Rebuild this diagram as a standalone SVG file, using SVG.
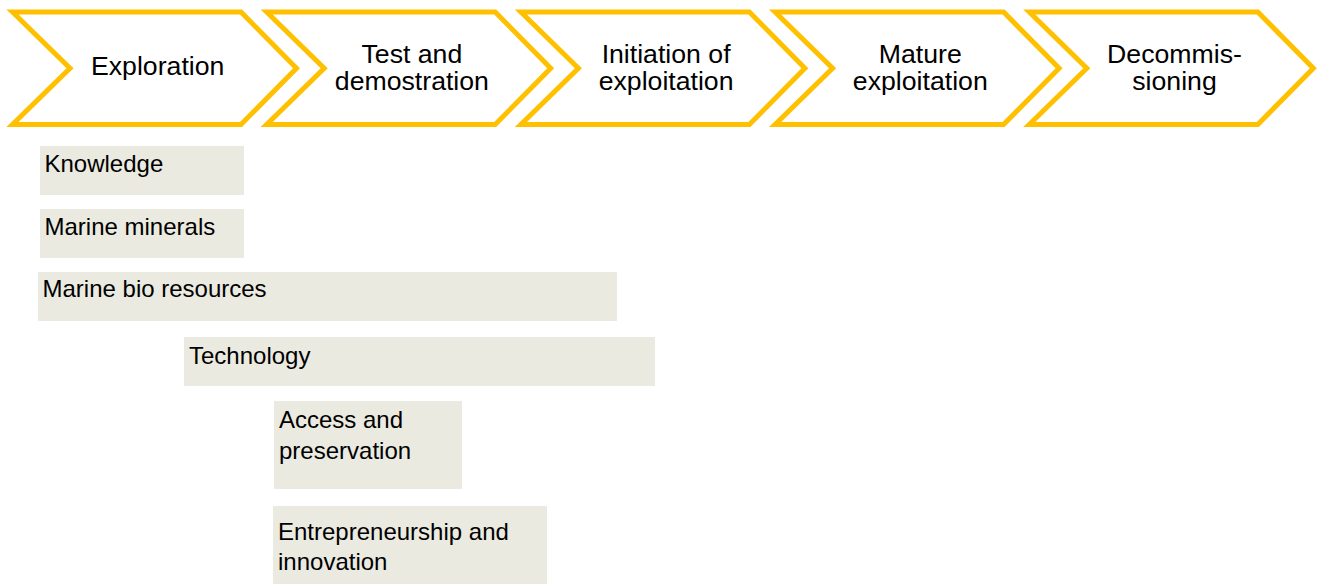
<svg xmlns="http://www.w3.org/2000/svg" width="1323" height="584" viewBox="0 0 1323 584">
<defs>
<style>
.chev{fill:#FFFFFF;stroke:#FFC000;stroke-width:5;stroke-linejoin:miter}
.ct{font-family:"Liberation Sans",Arial,sans-serif;font-size:26.67px;fill:#000;text-anchor:middle}
.bar{fill:#EBEAE0}
.bt{font-family:"Liberation Sans",Arial,sans-serif;font-size:24px;fill:#000}
</style>
<polygon id="chevShape" points="2.5,12 231,12 286.5,68.3 231,124.5 2.5,124.5 60,68.3"/>
</defs>
<g id="stage-exploration" transform="translate(10,0)">
<use href="#chevShape" class="chev"/>
<text class="ct" x="147.7" y="75">Exploration</text>
</g>
<g id="stage-test" transform="translate(264.2,0)">
<use href="#chevShape" class="chev"/>
<text class="ct" x="147.7" y="63">Test and</text>
<text class="ct" x="147.7" y="90">demostration</text>
</g>
<g id="stage-initiation" transform="translate(518.4,0)">
<use href="#chevShape" class="chev"/>
<text class="ct" x="147.7" y="63">Initiation of</text>
<text class="ct" x="147.7" y="90">exploitation</text>
</g>
<g id="stage-mature" transform="translate(772.6,0)">
<use href="#chevShape" class="chev"/>
<text class="ct" x="147.7" y="63">Mature</text>
<text class="ct" x="147.7" y="90">exploitation</text>
</g>
<g id="stage-decommissioning" transform="translate(1026.8,0)">
<use href="#chevShape" class="chev"/>
<text class="ct" x="147.7" y="63">Decommis-</text>
<text class="ct" x="147.7" y="90">sioning</text>
</g>
<g id="connectors"></g>
<g id="bar-knowledge">
<rect class="bar" x="40" y="146" width="204" height="49"/>
<text class="bt" x="44.5" y="172">Knowledge</text>
</g>
<g id="bar-minerals">
<rect class="bar" x="40" y="209" width="204" height="49"/>
<text class="bt" x="44.5" y="235">Marine minerals</text>
</g>
<g id="bar-bio">
<rect class="bar" x="38" y="272" width="579" height="49"/>
<text class="bt" x="42.5" y="297">Marine bio resources</text>
</g>
<g id="bar-technology">
<rect class="bar" x="184" y="337" width="471" height="49"/>
<text class="bt" x="189" y="363.5">Technology</text>
</g>
<g id="bar-access">
<rect class="bar" x="274" y="401" width="188" height="88"/>
<text class="bt" x="279" y="427.5">Access and</text>
<text class="bt" x="279" y="458.5">preservation</text>
</g>
<g id="bar-entrepreneurship">
<rect class="bar" x="273" y="506" width="274" height="78"/>
<text class="bt" x="278" y="539.5">Entrepreneurship and</text>
<text class="bt" x="278" y="570">innovation</text>
</g>
</svg>
